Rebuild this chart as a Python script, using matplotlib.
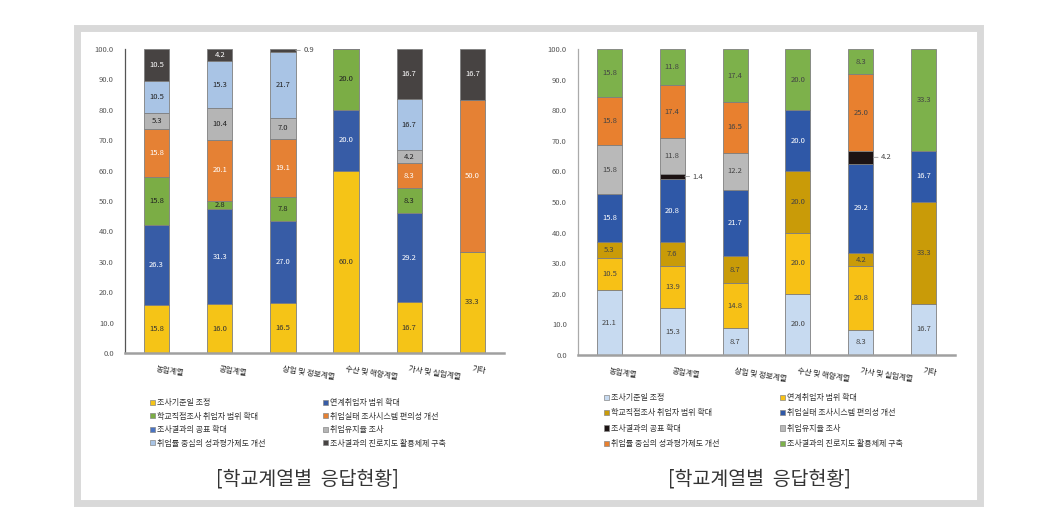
import matplotlib.pyplot as plt
from matplotlib.patches import Rectangle, Patch
import numpy as np

plt.rcParams['font.family'] = ['Noto Sans CJK KR', 'DejaVu Sans']

categories = ['농업계열', '공업계열', '상업 및 정보계열', '수산 및 해양계열', '가사 및 실업계열', '기타']
series_names = ['조사기준일 조정', '연계취업자 범위 확대', '학교직접조사 취업자 범위 확대',
                '취업실태 조사시스템 편의성 개선', '조사결과의 공표 확대', '취업유지율 조사',
                '취업률 중심의 성과평가제도 개선', '조사결과의 진로지도 활용체제 구축']

# left panel, one list per series (bottom to top)
left_values = [
    [15.8, 16.0, 16.5, 60.0, 16.7, 33.3],
    [26.3, 31.3, 27.0, 20.0, 29.2, 0],
    [15.8, 2.8, 7.8, 20.0, 8.3, 0],
    [15.8, 20.1, 19.1, 0, 8.3, 50.0],
    [0, 0, 0, 0, 0, 0],
    [5.3, 10.4, 7.0, 0, 4.2, 0],
    [10.5, 15.3, 21.7, 0, 16.7, 0],
    [10.5, 4.2, 0.9, 0, 16.7, 16.7],
]
left_colors = ['#f5c417', '#375ca6', '#7bad45', '#e58134', '#4a74c2', '#b5b5b5', '#a9c4e5', '#474342']
left_text = ['#333333', 'white', '#222222', 'white', 'white', '#222222', '#222222', 'white']
left_outside = [(7, 2)]

# right panel
right_values = [
    [21.1, 15.3, 8.7, 20.0, 8.3, 16.7],
    [10.5, 13.9, 14.8, 20.0, 20.8, 0],
    [5.3, 7.6, 8.7, 20.0, 4.2, 33.3],
    [15.8, 20.8, 21.7, 20.0, 29.2, 16.7],
    [0, 1.4, 0, 0, 4.2, 0],
    [15.8, 11.8, 12.2, 0, 0, 0],
    [15.8, 17.4, 16.5, 0, 25.0, 0],
    [15.8, 11.8, 17.4, 20.0, 8.3, 33.3],
]
right_colors = ['#c7daf0', '#f7c116', '#c99b08', '#2f58a7', '#1c1313', '#b9b9b9', '#e8802f', '#7db14b']
right_text = ['#444444', '#444444', '#444444', 'white', 'white', '#444444', '#444444', '#444444']
right_outside = [(4, 1), (4, 4)]

caption = '[학교계열별  응답현황]'

W, H = 1038, 514
fig = plt.figure(figsize=(W / 100, H / 100), dpi=100)
fig.patch.set_facecolor('white')

# gray frame round the whole figure area
fig.patches.append(Rectangle((76.5 / W, 1 - 502.5 / H), 904 / W, 475 / H, transform=fig.transFigure,
                             facecolor='none', edgecolor='#d9d9d9', linewidth=5.0))


def draw_panel(rect, values, colors, text_colors, outside, yspine, legend_x, legend_top, legend_pitch):
    ax = fig.add_axes(rect)
    x = np.arange(len(categories))
    bottom = np.zeros(len(categories))
    for i, vals in enumerate(values):
        vals = np.array(vals, dtype=float)
        ax.bar(x, vals, 0.4, bottom=bottom, color=colors[i], edgecolor='#7f7f7f', linewidth=0.6, zorder=2)
        for j, v in enumerate(vals):
            if v <= 0:
                continue
            yc = bottom[j] + v / 2
            if (i, j) in outside:
                ax.annotate(f'{v:.1f}', xy=(x[j] + 0.2, yc), xytext=(x[j] + 0.32, yc),
                            fontsize=5.5, color='#444444', va='center', ha='left',
                            arrowprops=dict(arrowstyle='-', color='#999999', lw=0.6,
                                            shrinkA=0, shrinkB=0))
            else:
                ax.text(x[j], yc, f'{v:.1f}', ha='center', va='center', fontsize=5.5,
                        color=text_colors[i], zorder=3)
        bottom += vals

    ax.set_xlim(-0.5, len(categories) - 0.5)
    ax.set_ylim(0, 100)
    ax.set_yticks(np.arange(0, 101, 10))
    ax.set_yticklabels([f'{t:.1f}' for t in np.arange(0, 101, 10)])
    ax.set_xticks(x)
    ax.set_xticklabels(categories, rotation=-9, ha='left', rotation_mode='anchor')
    ax.tick_params(axis='both', length=0, labelsize=5.5, labelcolor='#555555')
    ax.tick_params(axis='x', pad=9, labelcolor='#222222')
    ax.tick_params(axis='y', pad=8)
    for s in ['top', 'right']:
        ax.spines[s].set_visible(False)
    ax.spines['left'].set_color(yspine)
    ax.spines['left'].set_linewidth(0.9)
    ax.spines['bottom'].set_color('#a0a0a0')
    ax.spines['bottom'].set_linewidth(1.8)

    # legend: Excel style row-major, two columns
    handles = [Patch(facecolor=c, edgecolor='#888888', linewidth=0.5) for c in colors]
    for col in range(2):
        idx = [col + 2 * r for r in range(4)]
        fig.legend([handles[k] for k in idx], [series_names[k] for k in idx],
                   loc='upper left', bbox_to_anchor=(legend_x[col] / W, 1 - legend_top / H),
                   frameon=False, fontsize=5.8, handlelength=0.6, handleheight=0.6,
                   handletextpad=0.3, borderpad=0, borderaxespad=0,
                   labelspacing=legend_pitch, labelcolor='#333333')
    return ax


draw_panel([125 / W, 1 - 353 / H, 379 / W, 304 / H], left_values, left_colors, left_text,
           left_outside, '#555555', (150, 323), 398, 0.56)
draw_panel([578 / W, 1 - 355 / H, 377 / W, 306 / H], right_values, right_colors, right_text,
           right_outside, '#aaaaaa', (604, 780), 393, 0.8)

fig.text(307 / W, 1 - 479 / H, caption, ha='center', va='center', fontsize=14, color='#333333')
fig.text(759 / W, 1 - 479 / H, caption, ha='center', va='center', fontsize=14, color='#333333')

fig.savefig('out.png', dpi=100, facecolor='white')
